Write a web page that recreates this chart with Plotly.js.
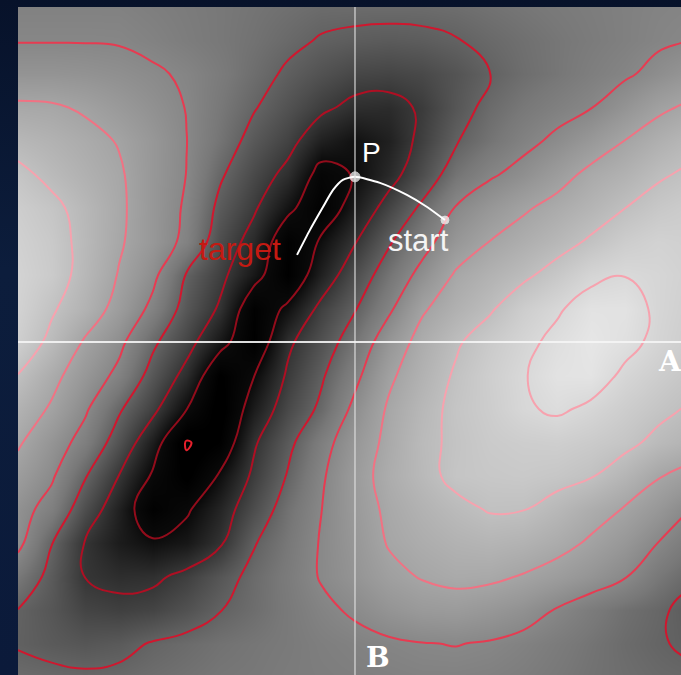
<!DOCTYPE html>
<html><head><meta charset="utf-8">
<script src="https://cdn.plot.ly/plotly-3.0.1.min.js"></script>
<style>
html,body{margin:0;padding:0;width:681px;height:675px;overflow:hidden;background:linear-gradient(180deg,#07122a 0%,#0c1d3c 40%,#0b1a3a 100%);}
#chart{width:681px;height:675px;}
</style></head><body><div id="chart"></div>
<script>
// grid coordinates (A across, B up)
const xGrid = [-1.0,-0.9,-0.8,-0.7,-0.6,-0.5,-0.4,-0.3,-0.2,-0.1,0.0,0.1,0.2,0.3,0.4,0.5,0.6,0.7,0.8,0.9,1.0];
const yGrid = [1.0,0.9,0.8,0.7,0.6,0.5,0.4,0.3,0.2,0.1,0.0,-0.1,-0.2,-0.3,-0.4,-0.5,-0.6,-0.7,-0.8,-0.9,-1.0];
// landscape values, row by row from top (B=1) to bottom (B=-1)
const zRows = [
 [0.43,0.43,0.43,0.43,0.42,0.41,0.40,0.39,0.38,0.37,0.37,0.37,0.37,0.375,0.385,0.395,0.405,0.415,0.425,0.435,0.44],
 [0.447,0.447,0.447,0.445,0.432,0.415,0.40,0.385,0.365,0.345,0.335,0.33,0.335,0.347,0.365,0.38,0.395,0.41,0.425,0.44,0.452],
 [0.49,0.49,0.485,0.475,0.46,0.44,0.41,0.375,0.34,0.31,0.285,0.28,0.29,0.315,0.348,0.375,0.395,0.42,0.44,0.47,0.50],
 [0.565,0.56,0.54,0.51,0.48,0.448,0.40,0.355,0.31,0.265,0.23,0.225,0.26,0.32,0.37,0.40,0.425,0.448,0.49,0.535,0.565],
 [0.62,0.60,0.575,0.545,0.50,0.451,0.39,0.325,0.275,0.20,0.165,0.20,0.27,0.345,0.39,0.43,0.465,0.505,0.551,0.59,0.625],
 [0.67,0.63,0.595,0.56,0.50,0.449,0.36,0.29,0.23,0.12,0.155,0.22,0.30,0.39,0.44,0.475,0.52,0.57,0.60,0.64,0.665],
 [0.70,0.67,0.62,0.565,0.50,0.44,0.33,0.26,0.17,0.09,0.19,0.28,0.365,0.455,0.50,0.54,0.575,0.61,0.649,0.68,0.70],
 [0.715,0.685,0.625,0.56,0.50,0.43,0.30,0.22,0.09,0.16,0.245,0.34,0.42,0.50,0.551,0.585,0.62,0.66,0.70,0.72,0.71],
 [0.725,0.69,0.62,0.545,0.47,0.345,0.27,0.18,0.08,0.20,0.30,0.39,0.475,0.56,0.60,0.635,0.68,0.73,0.748,0.735,0.715],
 [0.72,0.66,0.60,0.52,0.43,0.32,0.24,0.09,0.165,0.27,0.345,0.435,0.54,0.595,0.64,0.70,0.74,0.785,0.785,0.735,0.705],
 [0.705,0.63,0.54,0.47,0.365,0.28,0.18,0.08,0.235,0.308,0.39,0.497,0.58,0.64,0.69,0.73,0.77,0.80,0.775,0.73,0.695],
 [0.648,0.575,0.50,0.43,0.32,0.225,0.075,0.148,0.26,0.34,0.43,0.535,0.60,0.66,0.705,0.745,0.785,0.79,0.735,0.70,0.67],
 [0.60,0.54,0.46,0.36,0.27,0.152,0.06,0.19,0.29,0.365,0.47,0.56,0.62,0.67,0.70,0.74,0.762,0.735,0.70,0.67,0.64],
 [0.56,0.49,0.42,0.31,0.19,0.044,0.085,0.24,0.33,0.42,0.50,0.57,0.63,0.665,0.69,0.70,0.705,0.69,0.67,0.63,0.60],
 [0.52,0.46,0.355,0.248,0.14,0.07,0.16,0.265,0.355,0.44,0.515,0.58,0.625,0.67,0.68,0.685,0.675,0.655,0.61,0.555,0.52],
 [0.48,0.42,0.30,0.20,0.09,0.14,0.21,0.30,0.385,0.449,0.51,0.565,0.60,0.63,0.655,0.652,0.62,0.58,0.545,0.50,0.445],
 [0.47,0.352,0.245,0.19,0.16,0.18,0.24,0.345,0.40,0.455,0.50,0.555,0.58,0.60,0.61,0.60,0.575,0.54,0.50,0.449,0.40],
 [0.40,0.33,0.248,0.23,0.235,0.27,0.32,0.37,0.41,0.455,0.49,0.53,0.555,0.57,0.565,0.545,0.52,0.49,0.455,0.40,0.36],
 [0.349,0.32,0.28,0.27,0.28,0.31,0.348,0.375,0.405,0.435,0.46,0.49,0.51,0.515,0.50,0.48,0.445,0.41,0.38,0.36,0.33],
 [0.345,0.33,0.32,0.33,0.355,0.37,0.385,0.395,0.405,0.42,0.43,0.44,0.448,0.452,0.445,0.43,0.41,0.39,0.37,0.355,0.34],
 [0.37,0.365,0.36,0.365,0.375,0.385,0.395,0.40,0.41,0.415,0.42,0.425,0.43,0.43,0.425,0.415,0.40,0.385,0.375,0.365,0.36]
];
// descent path from start through P toward target
const pathA = [-0.172,-0.134,-0.095,-0.065,-0.036,0.0,0.074,0.154,0.214,0.267];
const pathB = [0.260,0.334,0.403,0.454,0.484,0.493,0.475,0.439,0.403,0.364];
const dotA = [0.0, 0.267];
const dotB = [0.493, 0.364];
const dotSize = [10, 8];
const labelText = ['P','start','target','A','B'];
const labelA = [0.050, 0.187, -0.341, 0.935, 0.068];
const labelB = [0.567, 0.304, 0.278, -0.057, -0.943];

const yAsc = yGrid.slice().reverse();
const zAsc = zRows.slice().reverse();

const heat = {type:'heatmap', x:xGrid, y:yAsc, z:zAsc, zsmooth:'best',
  colorscale:[[0,'#000000'],[0.095,'#0a0a0a'],[0.162,'#202020'],[0.297,'#4d4d4d'],[0.432,'#787878'],
              [0.568,'#979797'],[0.703,'#b2b2b2'],[0.838,'#cdcdcd'],[1,'#ebebeb']],
  zmin:0.08, zmax:0.82, showscale:false, hoverinfo:'skip'};
const cont = {type:'contour', x:xGrid, y:yAsc, z:zAsc,
  contours:{coloring:'lines', start:0.05, end:0.75, size:0.1},
  line:{width:2, smoothing:1.3},
  colorscale:[[0,'#e8202c'],[0.143,'#8e0c1a'],[0.286,'#a50e20'],[0.429,'#c41228'],[0.571,'#dc1c34'],[0.714,'#ec4a60'],[0.857,'#f27a8a'],[1,'#f7a2ae']],
  zauto:false, zmin:0.05, zmax:0.75, showscale:false, hoverinfo:'skip'};
const path = {type:'scatter', mode:'lines', x:pathA, y:pathB,
  line:{color:'#ffffff', width:2, shape:'spline', smoothing:0.6}, hoverinfo:'skip'};
const dots = {type:'scatter', mode:'markers', x:dotA, y:dotB,
  marker:{color:'#ffffff', size:dotSize}, hoverinfo:'skip'};

const fontSans = 'Liberation Sans, Arial, sans-serif';
const fontSerif = 'DejaVu Serif, serif';
const labelFont = [
  {family:fontSans, size:28, color:'#ffffff'},
  {family:fontSans, size:31, color:'#f4f4f4'},
  {family:fontSans, size:32, color:'#c41a12'},
  {family:fontSerif, size:28, color:'#ffffff', weight:'bold'},
  {family:fontSerif, size:28, color:'#ffffff', weight:'bold'}
];
const annotations = labelText.map((t,i)=>({text:t, x:labelA[i], y:labelB[i], xref:'x', yref:'y',
  showarrow:false, xanchor:'center', yanchor:'middle', font:labelFont[i]}));

const layout = {
  width:681, height:675,
  margin:{l:18, r:0, t:7, b:0, pad:0},
  paper_bgcolor:'rgba(0,0,0,0)', plot_bgcolor:'#777777',
  xaxis:{range:[-1, 0.9674], visible:false, fixedrange:true},
  yaxis:{range:[-0.994, 1.0], visible:false, fixedrange:true},
  showlegend:false,
  shapes:[
    {type:'line', xref:'x', yref:'paper', x0:0, x1:0, y0:0, y1:1, layer:'above', line:{color:'rgba(225,225,225,0.75)', width:1.5}},
    {type:'line', xref:'paper', yref:'y', x0:0, x1:1, y0:0, y1:0, layer:'above', line:{color:'rgba(245,245,245,0.9)', width:1.8}}
  ],
  annotations:annotations
};
Plotly.newPlot('chart', [heat, cont, path, dots], layout, {staticPlot:true, displayModeBar:false});
</script></body></html>
